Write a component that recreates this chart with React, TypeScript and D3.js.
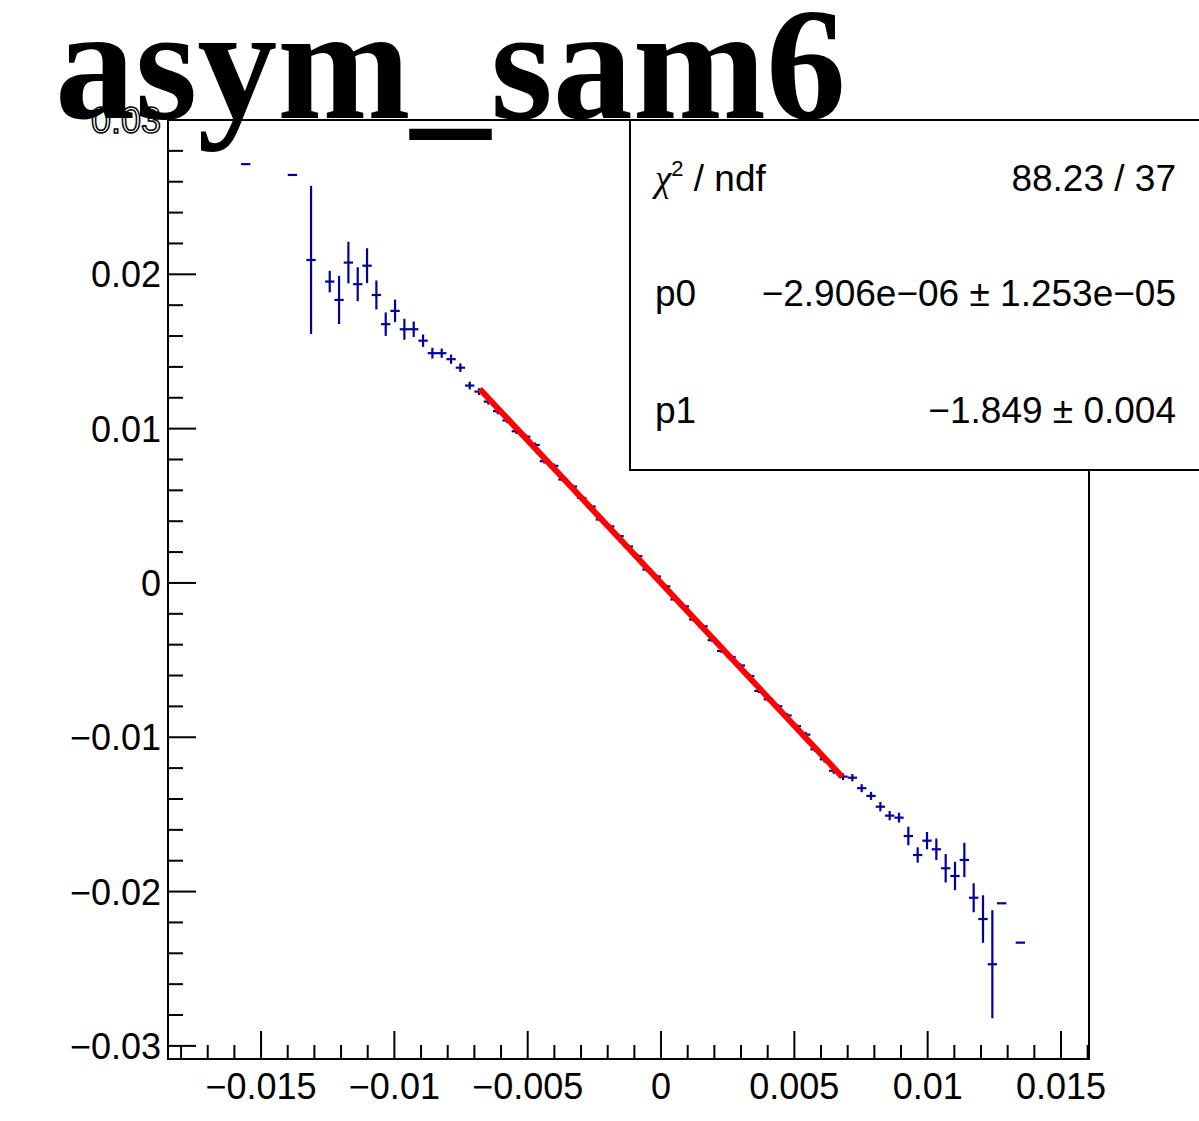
import { useEffect, useRef } from "react";
import * as d3 from "d3";

// bin centres of the profile (x), mean (y) and error (yErr)
const xVals = [
  -0.015575, -0.013825, -0.013125, -0.012425, -0.012075, -0.011725, -0.011375, -0.011025,
  -0.010675, -0.010325, -0.009975, -0.009625, -0.009275, -0.008925, -0.008575, -0.008225,
  -0.007875, -0.007525, -0.007175, -0.006825, -0.006475, -0.006125, -0.005775, -0.005425,
  -0.005075, -0.004725, -0.004375, -0.004025, -0.003675, -0.003325, -0.002975, -0.002625,
  -0.002275, -0.001925, -0.001575, -0.001225, -0.000875, -0.000525, -0.000175, 0.000175,
  0.000525, 0.000875, 0.001225, 0.001575, 0.001925, 0.002275, 0.002625, 0.002975,
  0.003325, 0.003675, 0.004025, 0.004375, 0.004725, 0.005075, 0.005425, 0.005775,
  0.006125, 0.006475, 0.006825, 0.007175, 0.007525, 0.007875, 0.008225, 0.008575,
  0.008925, 0.009275, 0.009625, 0.009975, 0.010325, 0.010675, 0.011025, 0.011375,
  0.011725, 0.012075, 0.012425, 0.012775, 0.013475,
];
const yVals = [
  0.02714, 0.02644, 0.02093, 0.01953, 0.01834, 0.02076, 0.01936, 0.02056,
  0.01866, 0.01677, 0.01763, 0.01644, 0.01644, 0.0157, 0.01489, 0.01489,
  0.0145, 0.01395, 0.01279, 0.0124, 0.01175, 0.01113, 0.01053, 0.00983,
  0.00948, 0.00894, 0.00789, 0.00759, 0.0067, 0.00625, 0.00551, 0.00495,
  0.00411, 0.00366, 0.00303, 0.00236, 0.00174, 0.00087, 0.00042, -0.00022,
  -0.00107, -0.00152, -0.00237, -0.00281, -0.00371, -0.00441, -0.0048, -0.00535,
  -0.00603, -0.007, -0.00754, -0.00799, -0.00859, -0.00928, -0.00983, -0.01078,
  -0.01143, -0.01217, -0.01255, -0.01262, -0.0133, -0.0138, -0.0145, -0.01508,
  -0.01521, -0.0164, -0.01763, -0.0167, -0.01726, -0.01849, -0.01899, -0.01795,
  -0.0204, -0.02178, -0.02471, -0.02076, -0.02331,
];
const yErrs = [
  0, 0, 0.0048, 0.0007, 0.00156, 0.00135, 0.0011, 0.00113,
  0.00094, 0.00076, 0.00073, 0.00068, 0.0005, 0.0004, 0.00035, 0.0003,
  0.0003, 0.00028, 0.00025, 0.00022, 0.0002, 0.0002, 0.00018, 0.00018,
  0.00016, 0.00016, 0.00015, 0.00015, 0.00014, 0.00014, 0.00013, 0.00013,
  0.00013, 0.00012, 0.00012, 0.00012, 0.00012, 0.00012, 0.00012, 0.00012,
  0.00012, 0.00012, 0.00012, 0.00012, 0.00012, 0.00013, 0.00013, 0.00013,
  0.00014, 0.00014, 0.00015, 0.00015, 0.00016, 0.00016, 0.00018, 0.00018,
  0.0002, 0.0002, 0.00022, 0.00024, 0.00026, 0.00026, 0.0003, 0.0003,
  0.00032, 0.0006, 0.0005, 0.00056, 0.0007, 0.00092, 0.00092, 0.00111,
  0.00094, 0.00154, 0.0035, 0, 0,
];
const binWidth = 0.00035;

// linear fit pol1
const fitP0 = -2.906e-6;
const fitP1 = -1.849;
const fitRange = [-0.0068, 0.0068];

const xTickValues = [-0.015, -0.01, -0.005, 0, 0.005, 0.01, 0.015];
const xTickLabels = ["\u22120.015", "\u22120.01", "\u22120.005", "0", "0.005", "0.01", "0.015"];
const yTickValues = [0.03, 0.02, 0.01, 0, -0.01, -0.02, -0.03];
const yTickLabels = ["0.03", "0.02", "0.01", "0", "\u22120.01", "\u22120.02", "\u22120.03"];

const statNames = ["p0", "p1"];
const statValues = ["\u22122.906e\u221206 \u00b1 1.253e\u221205", "\u22121.849 \u00b1 0.004"];
const chi2Text = "88.23 / 37";
const title = "asym_sam6";

const W = 1199;
const H = 1121;
const sans = "'Liberation Sans', Arial, Helvetica, sans-serif";

export default function App() {
  const svgRef = useRef<SVGSVGElement | null>(null);

  useEffect(() => {
    if (!svgRef.current) return;
    d3.select(svgRef.current).selectAll("*").remove();

    const svg = d3.select(svgRef.current).attr("width", W).attr("height", H);

    const left = 168, right = 1089, top = 120, bottom = 1059;
    const x = d3.scaleLinear().domain([-0.01849, 0.01605]).range([left, right]);
    const y = d3.scaleLinear().domain([-0.03085, 0.03]).range([bottom, top]);

    svg.append("rect").attr("width", W).attr("height", H).attr("fill", "#fff");

    // frame
    svg
      .append("rect")
      .attr("x", left)
      .attr("y", top)
      .attr("width", right - left)
      .attr("height", bottom - top)
      .attr("fill", "none")
      .attr("stroke", "#000")
      .attr("stroke-width", 2);

    // x ticks (minor every 0.001)
    const xt = d3.range(-18, 17).map((i) => ({ v: i * 0.001, major: i % 5 === 0 }));
    svg
      .append("g")
      .selectAll("line")
      .data(xt)
      .enter()
      .append("line")
      .attr("x1", (d) => x(d.v))
      .attr("x2", (d) => x(d.v))
      .attr("y1", bottom)
      .attr("y2", (d) => bottom - (d.major ? 28 : 14))
      .attr("stroke", "#000")
      .attr("stroke-width", 2);

    // y ticks (minor every 0.002)
    const yt = d3.range(-15, 16).map((i) => ({ v: i * 0.002, major: i % 5 === 0 }));
    svg
      .append("g")
      .selectAll("line")
      .data(yt)
      .enter()
      .append("line")
      .attr("y1", (d) => y(d.v))
      .attr("y2", (d) => y(d.v))
      .attr("x1", left)
      .attr("x2", (d) => left + (d.major ? 28 : 15))
      .attr("stroke", "#000")
      .attr("stroke-width", 2);

    // tick labels
    svg
      .append("g")
      .selectAll("text")
      .data(xTickValues)
      .enter()
      .append("text")
      .attr("x", (d) => x(d))
      .attr("y", 1099)
      .attr("text-anchor", "middle")
      .attr("font-family", sans)
      .attr("font-size", 36)
      .text((_, i) => xTickLabels[i]);

    svg
      .append("g")
      .selectAll("text")
      .data(yTickValues)
      .enter()
      .append("text")
      .attr("x", 161)
      .attr("y", (d) => y(d) + 13)
      .attr("text-anchor", "end")
      .attr("font-family", sans)
      .attr("font-size", 36)
      .attr("fill", (d) => (d === 0.03 ? "#fff" : "#000"))
      .attr("stroke", (d) => (d === 0.03 ? "#000" : "none"))
      .attr("stroke-width", 1.5)
      .text((_, i) => yTickLabels[i]);

    // error bars
    const pts = xVals.map((v, i) => ({ x: v, y: yVals[i], e: yErrs[i] }));
    const g = svg.append("g").attr("stroke", "#00009c").attr("stroke-width", 2.2);
    g.selectAll("line.h")
      .data(pts)
      .enter()
      .append("line")
      .attr("class", "h")
      .attr("x1", (d) => x(d.x - binWidth / 2))
      .attr("x2", (d) => x(d.x + binWidth / 2))
      .attr("y1", (d) => y(d.y))
      .attr("y2", (d) => y(d.y));
    g.selectAll("line.v")
      .data(pts.filter((d) => d.e > 0))
      .enter()
      .append("line")
      .attr("class", "v")
      .attr("x1", (d) => x(d.x))
      .attr("x2", (d) => x(d.x))
      .attr("y1", (d) => y(d.y + d.e))
      .attr("y2", (d) => y(d.y - d.e));

    // fit line
    const fit = d3
      .line<number>()
      .x((d) => x(d))
      .y((d) => y(fitP0 + fitP1 * d));
    svg
      .append("path")
      .attr("d", fit(fitRange))
      .attr("fill", "none")
      .attr("stroke", "#ff0000")
      .attr("stroke-width", 6);

    // stats box
    const bx = 630, by = 120;
    svg
      .append("rect")
      .attr("x", bx)
      .attr("y", by)
      .attr("width", W - bx + 10)
      .attr("height", 470 - by)
      .attr("fill", "#fff")
      .attr("stroke", "#000")
      .attr("stroke-width", 2);

    const chi = svg
      .append("text")
      .attr("x", 655)
      .attr("y", 191)
      .attr("font-family", sans)
      .attr("font-size", 37);
    chi.append("tspan").attr("font-family", "'Liberation Serif', serif").attr("font-style", "italic").text("\u03c7");
    chi.append("tspan").attr("font-size", 22).attr("dy", -15).text("2");
    chi.append("tspan").attr("dy", 15).text(" / ndf");

    svg
      .append("text")
      .attr("x", 1176)
      .attr("y", 191)
      .attr("text-anchor", "end")
      .attr("font-family", sans)
      .attr("font-size", 37)
      .text(chi2Text);

    statNames.forEach((name, i) => {
      const yy = 306 + i * 117;
      svg
        .append("text")
        .attr("x", 655)
        .attr("y", yy)
        .attr("font-family", sans)
        .attr("font-size", 37)
        .text(name);
      svg
        .append("text")
        .attr("x", 1176)
        .attr("y", yy)
        .attr("text-anchor", "end")
        .attr("font-family", sans)
        .attr("font-size", 37)
        .text(statValues[i]);
    });

    // title
    svg
      .append("text")
      .attr("x", 55)
      .attr("y", 118)
      .attr("font-family", "'Liberation Serif', 'Times New Roman', serif")
      .attr("font-weight", "bold")
      .attr("font-size", 160)
      .text(title);
  }, []);

  return <svg ref={svgRef} style={{ position: "absolute", left: 0, top: 0, display: "block" }}></svg>;
}
